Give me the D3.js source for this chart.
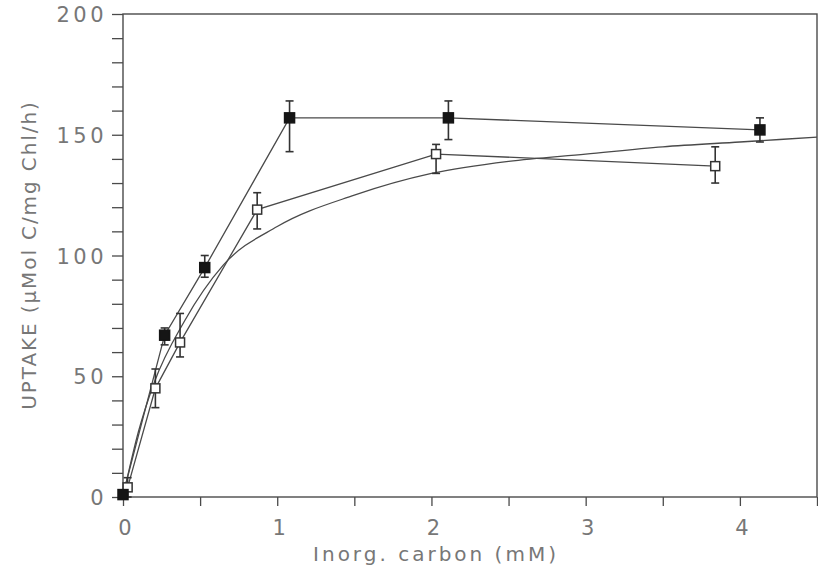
<!DOCTYPE html>
<html>
<head>
<meta charset="utf-8">
<script src="https://cdn.jsdelivr.net/npm/d3@7"></script>
<style>
  body { margin: 0; background: #fff; }
  text { font-family: 'DejaVu Sans', sans-serif; fill: #777; }
</style>
</head>
<body>
<svg id="chart"></svg>
<script>
// filled squares
const filledX = [0, 0.27, 0.53, 1.08, 2.11, 4.13];
const filledY = [1, 67, 95, 157, 157, 152];
const filledLo = [0, 63, 91, 143, 148, 147];
const filledHi = [2, 70, 100, 164, 164, 157];

// open squares
const openX = [0.03, 0.21, 0.37, 0.87, 2.03, 3.84];
const openY = [4, 45, 64, 119, 142, 137];
const openLo = [0, 37, 58, 111, 134, 130];
const openHi = [8, 53, 76, 126, 146, 145];

// fitted curve
const fitX = [0, 0.1, 0.2, 0.4, 0.65, 1, 1.5, 2, 2.5, 3, 3.5, 4, 4.5];
const fitY = [0, 27, 47, 73, 96, 112, 125, 134, 139, 142, 145, 147, 149];

const xTicks = [0, 0.5, 1, 1.5, 2, 2.5, 3, 3.5, 4, 4.5];
const xLabels = [0, 1, 2, 3, 4];
const yLabels = [0, 50, 100, 150, 200];

const width = 818, height = 573;
const mLeft = 123, mRight = 817, mTop = 14, mBottom = 497;

const svg = d3.select('#chart').attr('width', width).attr('height', height);
svg.append('rect').attr('width', width).attr('height', height).attr('fill', '#fff');

const x = d3.scaleLinear().domain([0, 4.5]).range([mLeft, mRight]);
const y = d3.scaleLinear().domain([0, 200]).range([mBottom, mTop]);

const ink = '#4a4a4a';

// frame
svg.append('rect')
    .attr('x', mLeft).attr('y', mTop)
    .attr('width', mRight - mLeft).attr('height', mBottom - mTop)
    .attr('fill', 'none').attr('stroke', ink).attr('stroke-width', 1.4);

// axes
const xAxis = svg.append('g')
    .attr('transform', 'translate(0,' + mBottom + ')')
    .call(d3.axisBottom(x).tickValues(xTicks).tickSize(9).tickFormat(''));
const yAxis = svg.append('g')
    .attr('transform', 'translate(' + mLeft + ',0)')
    .call(d3.axisLeft(y).tickValues(d3.range(0, 201, 10)).tickSize(11).tickFormat(''));
[xAxis, yAxis].forEach(a => {
    a.select('.domain').remove();
    a.selectAll('line').attr('stroke', ink).attr('stroke-width', 1.3);
});

svg.selectAll('.xlab')
    .data(xLabels)
    .enter().append('text')
    .attr('x', d => x(d) + 2)
    .attr('y', 535)
    .attr('text-anchor', 'middle')
    .attr('font-size', '21px')
    .text(d => d);

svg.selectAll('.ylab')
    .data(yLabels)
    .enter().append('text')
    .attr('x', 107)
    .attr('y', d => y(d) + 8)
    .attr('text-anchor', 'end')
    .attr('font-size', '21px')
    .attr('letter-spacing', '3.5px')
    .text(d => d);

svg.append('text')
    .attr('x', 436).attr('y', 561)
    .attr('text-anchor', 'middle')
    .attr('font-size', '20px')
    .attr('letter-spacing', '3px')
    .text('Inorg. carbon (mM)');

svg.append('text')
    .attr('transform', 'translate(36,255) rotate(-90)')
    .attr('text-anchor', 'middle')
    .attr('font-size', '20px')
    .attr('letter-spacing', '1.9px')
    .text('UPTAKE (\u00b5Mol C/mg Chl/h)');

// lines
const line = d3.line().x(d => x(d[0])).y(d => y(d[1]));
const zip = (a, b) => a.map((v, i) => [v, b[i]]);

svg.append('path')
    .datum(zip(fitX, fitY))
    .attr('d', line.curve(d3.curveMonotoneX))
    .attr('fill', 'none').attr('stroke', ink).attr('stroke-width', 1.3);

line.curve(d3.curveLinear);
svg.append('path')
    .datum(zip(filledX, filledY))
    .attr('d', line)
    .attr('fill', 'none').attr('stroke', ink).attr('stroke-width', 1.3);
svg.append('path')
    .datum(zip(openX, openY))
    .attr('d', line)
    .attr('fill', 'none').attr('stroke', ink).attr('stroke-width', 1.3);

// error bars and markers
function drawSeries(xs, ys, lo, hi, filled) {
    const g = svg.append('g');
    const bars = g.selectAll('g.err')
        .data(xs.map((v, i) => ({x: v, y: ys[i], lo: lo[i], hi: hi[i]})))
        .enter().append('g');
    bars.append('line')
        .attr('x1', d => x(d.x)).attr('x2', d => x(d.x))
        .attr('y1', d => y(d.lo)).attr('y2', d => y(d.hi))
        .attr('stroke', '#333').attr('stroke-width', 1.6);
    ['lo', 'hi'].forEach(k => {
        bars.append('line')
            .attr('x1', d => x(d.x) - 4).attr('x2', d => x(d.x) + 4)
            .attr('y1', d => y(d[k])).attr('y2', d => y(d[k]))
            .attr('stroke', '#333').attr('stroke-width', 1.6);
    });
    const s = filled ? 10 : 9;
    bars.append('rect')
        .attr('x', d => x(d.x) - s / 2).attr('y', d => y(d.y) - s / 2)
        .attr('width', s).attr('height', s)
        .attr('fill', filled ? '#151515' : '#fff')
        .attr('stroke', filled ? '#151515' : '#333')
        .attr('stroke-width', 1.5);
}

drawSeries(openX, openY, openLo, openHi, false);
drawSeries(filledX, filledY, filledLo, filledHi, true);
</script>
</body>
</html>
